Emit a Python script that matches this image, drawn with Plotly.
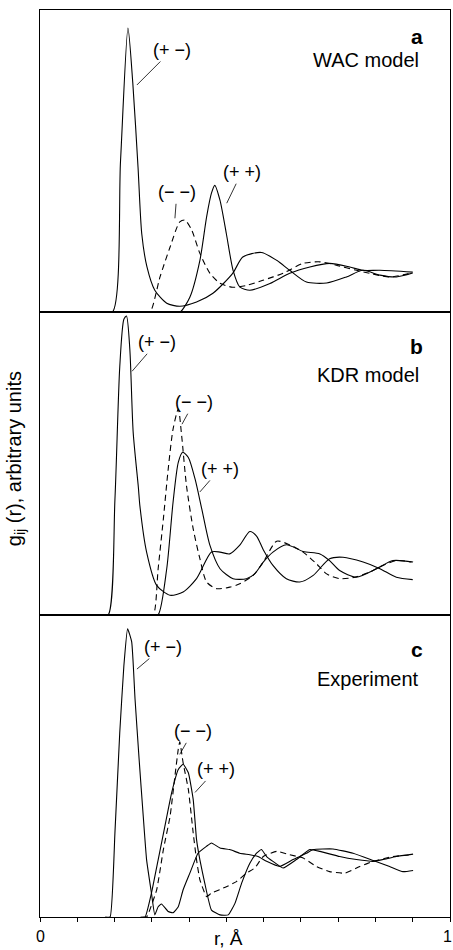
import plotly.graph_objects as go
from plotly.subplots import make_subplots

# ---------------- data (r in axis units 0..11, g in % of panel height) ----------------
# Panel a: WAC model
r_a_pm = [1.5, 1.94, 2.16, 2.36, 2.49, 2.63, 2.73, 2.87, 3.08, 3.4, 3.75, 4.2, 4.64,
          5.17, 5.44, 5.94, 6.35, 6.7, 7.15, 7.69, 8.22, 8.66, 9.12, 9.56, 10.0]
g_a_pm = [0, 0, 50, 94, 75.8, 48, 26, 15, 7.3, 3, 2, 3.4, 6.3,
          12.9, 18.3, 19.8, 17.2, 13.9, 10, 9.7, 11.7, 13.9, 12.3, 11.7, 13]
r_a_mm = [2.8, 2.95, 3.22, 3.49, 3.75, 3.89, 4.07, 4.29, 4.56, 4.83, 5.17, 5.54, 5.98, 6.52, 7.06,
          7.51, 7.95, 8.49, 8.85, 9.38, 9.92]
g_a_mm = [0, 0, 11.7, 21.6, 29.9, 30.5, 27.2, 19.5, 12.9, 9.6, 8.3, 8.9, 10.6, 12.9, 16.2,
          16.7, 15.6, 13.9, 12.9, 11.7, 12.9]
r_a_pp = [3.5, 3.75, 4.02, 4.29, 4.47, 4.6, 4.69, 4.83, 5.0, 5.18, 5.36, 5.63, 6.17, 6.7, 7.24,
          7.77, 8.31, 8.66, 9.12, 10.0]
g_a_pp = [0, 0, 5, 17.2, 31.6, 39.4, 42, 37, 26, 13.9, 8.4, 7.3, 9.5, 12.9, 15,
          16.2, 15, 13.9, 13.9, 13.3]

# Panel b: KDR model
r_b_pm = [1.6, 1.83, 2.01, 2.14, 2.25, 2.32, 2.41, 2.5, 2.64, 2.68, 2.86, 3.13, 3.49, 3.84, 4.2,
          4.6, 4.83, 5.09, 5.36, 5.63, 5.81, 5.99, 6.25, 6.61, 6.97, 7.33, 7.77, 8.13, 8.67,
          9.12, 9.56, 10.0]
g_b_pm = [0, 0, 38, 82, 97.7, 98.8, 87.8, 60.3, 42, 36, 20.7, 9.7, 6.4, 7.5, 11.9,
          20.7, 20.7, 20.1, 23, 27.5, 26, 21.5, 16.3, 11.9, 10.8, 13, 18.5, 19, 17.4,
          15.2, 12.4, 11.6]
r_b_mm = [2.9, 3.04, 3.17, 3.31, 3.44, 3.57, 3.71, 3.8, 3.93, 4.11, 4.29, 4.47, 4.74, 5.09, 5.36,
          5.72, 5.99, 6.35, 6.7, 7.06, 7.42, 7.69, 8.04, 8.45, 8.85, 9.2, 9.56, 9.97]
g_b_mm = [0, 0, 15.2, 31.7, 48.2, 61.4, 68, 59.2, 42.7, 28.4, 18.5, 10.8, 8.6, 9.1, 10.2,
          13, 17.4, 24.3, 23.1, 20.7, 16.8, 13.5, 11.9, 12.4, 14.1, 16.3, 17.9, 17.4]
r_b_pp = [3.0, 3.17, 3.4, 3.57, 3.71, 3.83, 3.98, 4.16, 4.34, 4.56, 4.83, 5.18, 5.54, 5.76, 5.99,
          6.25, 6.61, 7.06, 7.51, 7.77, 8.04, 8.49, 9.03, 9.47, 10.01]
g_b_pp = [0, 0, 15.2, 37.2, 50.4, 53.7, 52, 44.9, 35, 22.9, 15.2, 11.9, 11.9, 13.5, 17.4,
          20.7, 23.1, 20.9, 20.1, 17.9, 14.6, 12.4, 15.2, 17.9, 17.4]

# Panel c: Experiment
r_c_pm = [1.75, 1.88, 2.01, 2.14, 2.25, 2.35, 2.46, 2.55, 2.66, 2.77, 2.86, 2.99, 3.08, 3.17,
          3.26, 3.44, 3.57, 3.71, 3.84, 4.02, 4.24, 4.47, 4.6, 4.83, 5.09, 5.36, 5.63, 5.85,
          6.08, 6.43, 6.79, 7.15, 7.33, 7.86, 8.4, 8.94, 9.38, 9.74, 10.01]
g_c_pm = [0, 0, 27.8, 61, 83, 95.3, 91, 72, 52, 33.3, 18.9, 7.9, 0.7, 3.4,
          4.3, 1.8, 1.4, 3.4, 9, 14.5, 21.1, 23.4, 24.5, 22.8, 22.3, 21.1, 20.6, 20,
          18.4, 16.7, 19, 21.1, 22.3, 22.5, 21.1, 18.7, 16.7, 15, 15.4]
r_c_mm = [2.75, 2.86, 3.13, 3.31, 3.49, 3.62, 3.71, 3.75, 3.84, 3.98, 4.11, 4.2, 4.29, 4.47, 4.6,
          5.0, 5.27, 5.54, 5.76, 5.99, 6.35, 6.7, 7.06, 7.42, 7.77, 8.18, 8.58, 8.94, 9.47, 9.96]
g_c_mm = [0, 0, 9, 22.3, 33.3, 46.6, 55.5, 58, 51, 42.2, 27.8, 18.9, 12.3, 6.7, 7.9,
          10, 11.7, 14.5, 16.2, 20, 21.7, 20.6, 19.5, 16.7, 15, 14.5, 16.7, 18.4, 20, 20.6]
r_c_pp = [2.7, 2.82, 2.99, 3.17, 3.35, 3.53, 3.71, 3.84, 3.98, 4.11, 4.2, 4.29, 4.42, 4.6, 4.83,
          5.05, 5.23, 5.41, 5.63, 5.81, 5.94, 6.08, 6.25, 6.52, 6.88, 7.24, 7.51, 8.04, 8.49,
          8.94, 9.2, 9.56, 10.01]
g_c_pp = [0, 0, 7.9, 18.9, 30, 41, 48.8, 50.5, 47.7, 38.9, 25.6, 18.9, 11.2, 2.3, 0.7,
          0.7, 4.5, 11.2, 17.8, 21.1, 22.3, 20, 18.4, 16.2, 19, 22.3, 21.7, 20, 19,
          18.4, 19, 20, 20.8]

panel_letters = ["a", "b", "c"]
panel_titles = ["WAC model", "KDR model", "Experiment"]
pair_labels = ["(+ −)", "(− −)", "(+ +)"]
x_tick_vals = list(range(12))
x_tick_labels = ["0", "1"]
x_title = "r, Å"
y_title = "g<sub>ij</sub> (r), arbitrary units"

# ---------------- figure ----------------
FONT = "Liberation Sans, Arial, sans-serif"
fig = make_subplots(rows=3, cols=1, shared_xaxes=True, vertical_spacing=0)

panels = [
    (r_a_pm, g_a_pm, r_a_mm, g_a_mm, r_a_pp, g_a_pp),
    (r_b_pm, g_b_pm, r_b_mm, g_b_mm, r_b_pp, g_b_pp),
    (r_c_pm, g_c_pm, r_c_mm, g_c_mm, r_c_pp, g_c_pp),
]
for i, (rpm, gpm, rmm, gmm, rpp, gpp) in enumerate(panels, start=1):
    smooth = 0.7 if i < 3 else 0.4
    fig.add_trace(go.Scatter(x=rpm, y=gpm, mode="lines",
                             line=dict(color="black", width=1.1, shape="spline", smoothing=smooth),
                             showlegend=False, hoverinfo="skip"), row=i, col=1)
    fig.add_trace(go.Scatter(x=rmm, y=gmm, mode="lines",
                             line=dict(color="black", width=1.1, dash="6px,4px", shape="spline",
                                       smoothing=smooth),
                             showlegend=False, hoverinfo="skip"), row=i, col=1)
    fig.add_trace(go.Scatter(x=rpp, y=gpp, mode="lines",
                             line=dict(color="black", width=1.1, shape="spline", smoothing=smooth),
                             showlegend=False, hoverinfo="skip"), row=i, col=1)

for i in range(1, 4):
    fig.update_yaxes(range=[0, 100], showline=True, mirror=True, linecolor="black", linewidth=1.2,
                     showgrid=False, zeroline=False, showticklabels=False, ticks="", row=i, col=1)
    fig.update_xaxes(range=[0, 11], showline=True, mirror=True, linecolor="black", linewidth=1.2,
                     showgrid=False, zeroline=False, showticklabels=False,
                     ticks="outside" if i == 3 else "", tickvals=x_tick_vals, ticklen=4,
                     tickcolor="black", tickwidth=1, row=i, col=1)

ann = []
# leader-line labels: (panel, label idx, target x, target y, ax, ay)
leaders = [
    (1, 0, 2.6, 75.2, 35, -35),
    (1, 1, 3.62, 31.1, 2, -26),
    (1, 2, 5.01, 36.1, 15, -31),
    (2, 0, 2.47, 80.5, 25, -29),
    (2, 1, 3.81, 63.0, 12, -22),
    (2, 2, 4.29, 40.6, 20, -23),
    (3, 0, 2.6, 82.0, 26, -22),
    (3, 1, 3.75, 53.8, 13, -23),
    (3, 2, 4.16, 41.2, 21, -23),
]
for p, li, tx, ty, ax, ay in leaders:
    ann.append(dict(x=tx, y=ty, xref=f"x{'' if p == 1 else p}", yref=f"y{'' if p == 1 else p}",
                    text=pair_labels[li], showarrow=True, arrowhead=0, arrowwidth=0.8,
                    arrowcolor="black", ax=ax, ay=ay, standoff=0,
                    font=dict(family=FONT, size=18, color="black")))

letter_y = [91.4, 88.8, 88.4]
title_y = [83.4, 79.2, 78.7]
for p in range(1, 4):
    xr = f"x{'' if p == 1 else p}"
    yr = f"y{'' if p == 1 else p}"
    ann.append(dict(x=10.32, y=letter_y[p - 1], xref=xr, yref=yr, text="<b>" + panel_letters[p - 1] + "</b>",
                    showarrow=False, xanchor="right", yanchor="middle",
                    font=dict(family=FONT, size=21, color="black")))
    ann.append(dict(x=10.22, y=title_y[p - 1], xref=xr, yref=yr, text=panel_titles[p - 1],
                    showarrow=False, xanchor="right", yanchor="middle",
                    font=dict(family=FONT, size=20, color="black")))

# x tick labels and title
ann.append(dict(x=0, y=-0.022, xref="x3", yref="paper", text=x_tick_labels[0], showarrow=False,
                xanchor="center", yanchor="middle", font=dict(family=FONT, size=16, color="black")))
ann.append(dict(x=10.92, y=-0.022, xref="x3", yref="paper", text=x_tick_labels[1], showarrow=False,
                xanchor="center", yanchor="middle", font=dict(family=FONT, size=16, color="black")))
ann.append(dict(x=5.07, y=-0.024, xref="x3", yref="paper", text=x_title, showarrow=False,
                xanchor="center", yanchor="middle", font=dict(family=FONT, size=19, color="black")))
# y title
ann.append(dict(x=-0.058, y=0.505, xref="paper", yref="paper", text=y_title, showarrow=False,
                textangle=-90, xanchor="center", yanchor="middle",
                font=dict(family=FONT, size=20, color="black")))

fig.update_layout(width=453, height=950, margin=dict(l=40, r=3, t=10, b=33),
                  paper_bgcolor="white", plot_bgcolor="white", annotations=ann,
                  showlegend=False)

fig.write_html("out.html", config={"displayModeBar": False},
               post_script="document.body.style.margin='0';")
